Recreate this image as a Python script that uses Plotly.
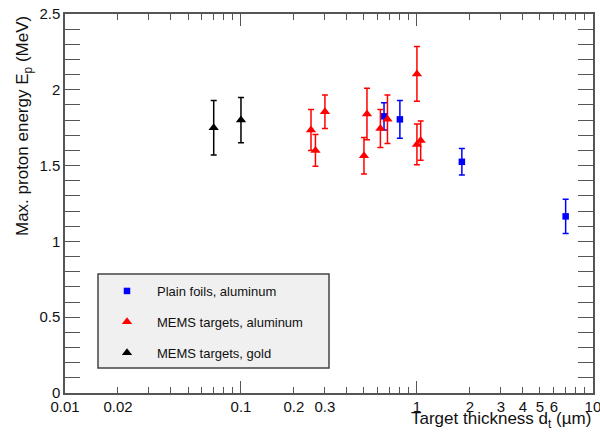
import plotly.graph_objects as go

# ---- data ----
foil_x = [0.65, 0.80, 1.8, 7.0]
foil_y = [1.825, 1.805, 1.525, 1.165]
foil_err = [0.09, 0.125, 0.087, 0.113]

mems_al_x = [0.25, 0.265, 0.30, 0.50, 0.52, 0.62, 0.68, 1.0, 1.0, 1.05]
mems_al_y = [1.735, 1.60, 1.855, 1.565, 1.84, 1.745, 1.805, 2.105, 1.64, 1.665]
mems_al_err = [0.135, 0.105, 0.11, 0.12, 0.17, 0.125, 0.16, 0.18, 0.135, 0.13]

mems_au_x = [0.07, 0.1]
mems_au_y = [1.75, 1.80]
mems_au_err = [0.18, 0.15]

x_tickvals = [0.01, 0.02, 0.1, 0.2, 0.3, 1, 2, 3, 4, 5, 6, 10]
x_ticktext = ["0.01", "0.02", "0.1", "0.2", "0.3", "1", "2", "3", "4", "5", "6", "10"]
x_minor = [0.03, 0.04, 0.05, 0.06, 0.07, 0.08, 0.09,
           0.4, 0.5, 0.6, 0.7, 0.8, 0.9, 7, 8, 9]
x_decades = [0.01, 0.1, 1, 10]

FONT = "Liberation Sans, Arial, sans-serif"
AX = "#555555"
TXT = "#111111"
XR = [-2, 1.0005]
PL, PB, PW, PH = 65, 393, 528, 379  # plot-area pixel geometry


def px(xp):
    return (xp - PL) / PW


def py(yp):
    return (PB - yp) / PH


fig = go.Figure()


def add(x, y, err, color, symbol, size, name, group):
    fig.add_trace(go.Scatter(
        x=x, y=y, mode="markers", name=name, legendgroup=group,
        marker=dict(color=color, symbol=symbol, size=size, line=dict(width=0)),
        error_y=dict(type="data", array=err, visible=True, color=color,
                     thickness=1.5, width=3),
    ))


add(foil_x, foil_y, foil_err, "#0000ff", "square", 6.5, "Plain foils, aluminum", "a")
add(mems_al_x, mems_al_y, mems_al_err, "#ff0000", "triangle-up", 9, "MEMS targets, aluminum", "b")
add(mems_au_x, mems_au_y, mems_au_err, "#000000", "triangle-up", 9, "MEMS targets, gold", "c")

# invisible trace to hold decade-tick overlay axis
fig.add_trace(go.Scatter(x=[], y=[], xaxis="x2", showlegend=False))

fig.update_layout(
    width=600, height=432,
    margin=dict(l=65, r=7, t=14, b=39),
    paper_bgcolor="white", plot_bgcolor="white",
    font=dict(family=FONT, color=TXT, size=15),
    xaxis=dict(
        type="log", range=XR, automargin=False,
        tickvals=x_tickvals, ticktext=x_ticktext,
        ticks="inside", ticklen=6, tickwidth=1.2, tickcolor=AX,
        showline=True, linecolor=AX, linewidth=1.5, mirror="allticks",
        showgrid=False, zeroline=False,
        tickfont=dict(size=15, family=FONT, color=TXT),
        ticklabelstandoff=-1, ticklabeloverflow="allow",
        minor=dict(tickvals=x_minor, ticks="inside", ticklen=6,
                   tickwidth=1.2, tickcolor=AX, showgrid=False),
    ),
    xaxis2=dict(
        type="log", range=XR, overlaying="x", anchor="y", side="bottom",
        tickvals=x_decades, showticklabels=False, automargin=False,
        ticks="inside", ticklen=12, tickwidth=1.2, tickcolor=AX,
        showline=False, mirror="allticks", showgrid=False, zeroline=False,
    ),
    yaxis=dict(
        range=[0, 2.5], dtick=0.5, tick0=0, automargin=False,
        ticks="inside", ticklen=15, tickwidth=1.2, tickcolor=AX,
        showline=True, linecolor=AX, linewidth=1.5, mirror="allticks",
        showgrid=False, zeroline=False,
        tickfont=dict(size=15, family=FONT, color=TXT),
        minor=dict(dtick=0.1, ticks="inside", ticklen=8, tickwidth=1.2,
                   tickcolor=AX, showgrid=False),
    ),
    legend=dict(
        x=px(97), y=py(276), xanchor="left", yanchor="top",
        bgcolor="rgba(0,0,0,0)", borderwidth=0,
        font=dict(size=13, family=FONT, color=TXT),
        itemwidth=50, tracegroupgap=11,
    ),
    shapes=[
        dict(type="rect", xref="paper", yref="paper",
             x0=px(98), x1=px(329), y0=py(368), y1=py(274),
             fillcolor="#f0f0f0", line=dict(color="#444444", width=1.5),
             layer="above"),
    ],
    annotations=[
        dict(text="Max. proton energy E<sub>p</sub> (MeV)", textangle=-90,
             xref="paper", yref="paper", x=px(24), y=1.0,
             xanchor="center", yanchor="top", showarrow=False,
             font=dict(size=17, family=FONT, color=TXT)),
        dict(text="Target thickness d<sub>t</sub> (µm)",
             xref="paper", yref="paper", x=1.0, y=py(420),
             xanchor="right", yanchor="middle", showarrow=False,
             font=dict(size=17, family=FONT, color=TXT)),
    ],
)

fig.write_html("out.html", config={"displayModeBar": False},
               post_script="document.body.style.margin='0';document.body.style.overflow='hidden';")
